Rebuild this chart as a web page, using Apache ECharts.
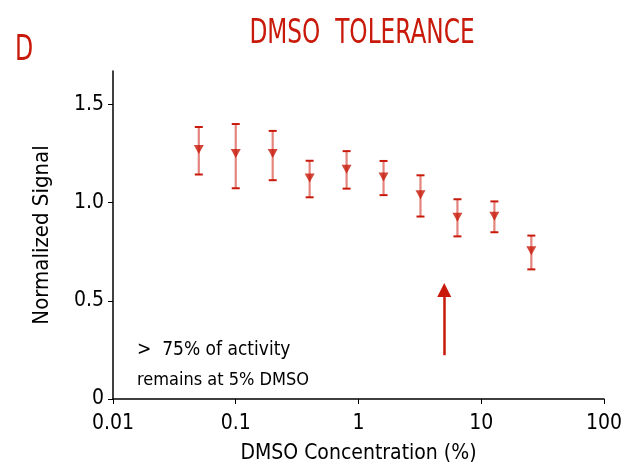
<!DOCTYPE html>
<html>
<head>
<meta charset="utf-8">
<script src="https://cdn.jsdelivr.net/npm/echarts@6/dist/echarts.min.js"></script>
<style>
html,body{margin:0;padding:0;background:#fff;}
#chart{width:625px;height:469px;}
</style>
</head>
<body>
<div id="chart"></div>
<script>
// DMSO concentration (%)
var concentrations = [0.05, 0.1, 0.2, 0.4, 0.8, 1.6, 3.2, 6.4, 12.8, 25.6];
// Normalized signal (mean)
var signalMean = [1.27, 1.25, 1.25, 1.125, 1.17, 1.13, 1.04, 0.925, 0.93, 0.755];
// Error bar upper and lower bounds
var signalUpper = [1.385, 1.40, 1.365, 1.213, 1.262, 1.212, 1.139, 1.017, 1.006, 0.832];
var signalLower = [1.143, 1.073, 1.114, 1.027, 1.071, 1.038, 0.929, 0.828, 0.849, 0.660];
// Axis ticks
var xTicks = [0.01, 0.1, 1, 10, 100];
var yTicks = [0, 0.5, 1.0, 1.5];
// Arrow marking 5% DMSO
var arrowX = 5;
var arrowFrom = 0.223;
var arrowTo = 0.555;

var FONT = "'DejaVu Sans Condensed', 'Liberation Sans Narrow', sans-serif";
var RED = '#c8190a';

var chart = echarts.init(document.getElementById('chart'));

var meanData = concentrations.map(function (c, i) { return [c, signalMean[i]]; });
var errData = concentrations.map(function (c, i) { return [c, signalLower[i], signalUpper[i]]; });

chart.setOption({
  animation: false,
  grid: { left: 113, right: 19, top: 71, bottom: 70, containLabel: false },
  graphic: [
    { type: 'text', x: 362, y: 17, scaleX: 0.76,
      style: { text: 'DMSO  TOLERANCE', fill: RED, font: '34px ' + FONT, textAlign: 'center' } },
    { type: 'text', x: 15, y: 33, scaleX: 0.75,
      style: { text: 'D', fill: RED, font: '35px ' + FONT } },
    { type: 'text', x: 137, y: 341,
      style: { text: '>  75% of activity', fill: '#000', font: '19px ' + FONT } },
    { type: 'text', x: 137, y: 371,
      style: { text: 'remains at 5% DMSO', fill: '#000', font: '18px ' + FONT } }
  ],
  xAxis: {
    type: 'log', logBase: 10, min: 0.01, max: 100,
    name: 'DMSO Concentration (%)', nameLocation: 'middle', nameGap: 44,
    nameTextStyle: { color: '#000', fontFamily: FONT, fontSize: 21 },
    axisLine: { lineStyle: { color: '#000', width: 1.5 } },
    axisTick: { show: true, length: 5, lineStyle: { color: '#000' } },
    minorTick: { show: false },
    splitLine: { show: false },
    axisLabel: {
      color: '#000', fontFamily: FONT, fontSize: 21, margin: 14,
      formatter: function (v) {
        for (var i = 0; i < xTicks.length; i++) {
          if (Math.abs(v - xTicks[i]) / xTicks[i] < 1e-6) return String(xTicks[i]);
        }
        return '';
      }
    }
  },
  yAxis: {
    type: 'value', min: 0, max: 1.67,
    name: 'Normalized Signal', nameLocation: 'middle', nameGap: 60,
    nameTextStyle: { color: '#000', fontFamily: FONT, fontSize: 22 },
    axisLine: { show: true, lineStyle: { color: '#000', width: 1.5 } },
    axisTick: { show: true, length: 5, lineStyle: { color: '#000' }, customValues: yTicks },
    splitLine: { show: false },
    axisLabel: {
      color: '#000', fontFamily: FONT, fontSize: 21, margin: 9,
      customValues: yTicks,
      formatter: function (v) { return v === 0 ? '0' : v.toFixed(1); }
    }
  },
  series: [
    {
      type: 'custom',
      data: errData,
      encode: { x: 0, y: [1, 2] },
      z: 2,
      renderItem: function (params, api) {
        var x = api.value(0);
        var lo = api.coord([x, api.value(1)]);
        var hi = api.coord([x, api.value(2)]);
        var hw = 4;
        return {
          type: 'group',
          children: [
            { type: 'line', shape: { x1: lo[0], y1: lo[1], x2: hi[0], y2: hi[1] },
              style: { stroke: 'rgba(215,80,70,0.7)', lineWidth: 2.2 } },
            { type: 'line', shape: { x1: lo[0] - hw, y1: lo[1], x2: lo[0] + hw, y2: lo[1] },
              style: { stroke: RED, lineWidth: 2 } },
            { type: 'line', shape: { x1: hi[0] - hw, y1: hi[1], x2: hi[0] + hw, y2: hi[1] },
              style: { stroke: RED, lineWidth: 2 } }
          ]
        };
      }
    },
    {
      type: 'scatter',
      data: meanData,
      symbol: 'triangle',
      symbolRotate: 180,
      symbolSize: [10, 9],
      itemStyle: { color: RED },
      z: 3,
      markLine: {
        silent: true,
        symbol: ['none', 'triangle'],
        symbolSize: 14,
        label: { show: false },
        lineStyle: { color: RED, width: 2.5, type: 'solid' },
        data: [[{ coord: [arrowX, arrowFrom] }, { coord: [arrowX, arrowTo] }]]
      }
    }
  ]
});
</script>
</body>
</html>
